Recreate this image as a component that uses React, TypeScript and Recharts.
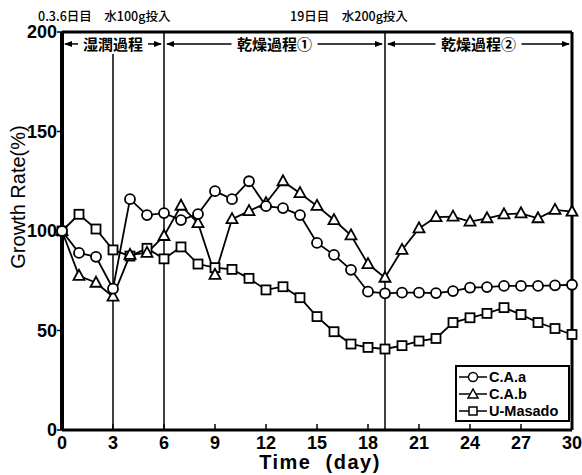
import React from "react";
import { ComposedChart, Line, XAxis, YAxis, ReferenceLine, Legend } from "recharts";

const days = [0, 1, 2, 3, 4, 5, 6, 7, 8, 9, 10, 11, 12, 13, 14, 15, 16, 17, 18, 19, 20, 21, 22, 23, 24, 25, 26, 27, 28, 29, 30];
const caA = [100, 89, 87, 71, 116, 108, 109, 105.5, 108.5, 120, 116, 125, 112.5, 111.5, 108, 94, 88, 80.5, 69.5, 68.7, 69, 69, 68.8, 69.8, 71.5, 71.8, 72.4, 72.4, 72.4, 72.7, 73];
const caB = [100, 77.5, 74, 67, 88, 89, 97.5, 112.7, 104, 78, 106, 110, 114, 125, 119, 112.6, 105.5, 97.8, 83.4, 76.5, 90.5, 101.3, 107, 107.2, 104.7, 106.4, 108.4, 108.9, 106.4, 110.6, 109.7];
const uMasado = [100, 108.4, 101, 90.5, 87.4, 91.3, 86, 92, 83.4, 81.6, 80.7, 76.2, 70.4, 72, 66.5, 57, 49.4, 43.2, 41.5, 40.7, 42.4, 44.7, 46, 54, 56.4, 58.6, 61.5, 58, 54, 51, 48];

const xTicks = [0, 3, 6, 9, 12, 15, 18, 21, 24, 27, 30];
const yTicks = [0, 50, 100, 150, 200];

const seriesNames = ["C.A.a", "C.A.b", "U-Masado"];
const phases = [
    { label: "湿潤過程", from: 0, to: 6 },
    { label: "乾燥過程①", from: 6, to: 19 },
    { label: "乾燥過程②", from: 19, to: 30 },
];
const notes = ["0.3.6日目\u3000水100g投入", "19日目\u3000水200g投入"];

const data = days.map((d, i) => ({ day: d, caA: caA[i], caB: caB[i], uMasado: uMasado[i] }));

const FONT = "'Liberation Sans', Arial, sans-serif";
const CJK = "'Noto Sans CJK JP', sans-serif";
const LW = 1.8;

const Triangle = (props: any) => {
    const { cx, cy, index } = props;
    if (cx == null || cy == null) return <g key={`t${index}`} />;
    return (
        <polygon
            key={`t${index}`}
            points={`${cx},${cy - 6} ${cx - 5.5},${cy + 4} ${cx + 5.5},${cy + 4}`}
            fill="#fff"
            stroke="#000"
            strokeWidth={LW}
        />
    );
};

const Square = (props: any) => {
    const { cx, cy, index } = props;
    if (cx == null || cy == null) return <g key={`s${index}`} />;
    return <rect key={`s${index}`} x={cx - 4.5} y={cy - 4.5} width={9} height={9} fill="#fff" stroke="#000" strokeWidth={LW} />;
};

const phaseShape = (label: string) => (p: any) => {
    const x1 = Number(p.x1);
    const x2 = Number(p.x2);
    const y = Number(p.y1);
    const cx = (x1 + x2) / 2;
    const half = (label.length * 16) / 2 + 3;
    return (
        <g>
            <line x1={x1 + 3} x2={cx - half} y1={y} y2={y} stroke="#000" strokeWidth={1.5} />
            <line x1={cx + half} x2={x2 - 3} y1={y} y2={y} stroke="#000" strokeWidth={1.5} />
            <polygon points={`${x1 + 2},${y} ${x1 + 10},${y - 3} ${x1 + 10},${y + 3}`} fill="#000" />
            <polygon points={`${x2 - 2},${y} ${x2 - 10},${y - 3} ${x2 - 10},${y + 3}`} fill="#000" />
            <text x={cx} y={y} textAnchor="middle" dominantBaseline="central" fontFamily={CJK} fontWeight="bold" fontSize={15} fill="#000">
                {label}
            </text>
        </g>
    );
};

const yLabel = () => (
    <text x={18} y={197} transform="rotate(-90, 18, 197)" textAnchor="middle" dominantBaseline="central" fontFamily={FONT} fontSize={20} fill="#000">
        Growth Rate(%)
    </text>
);

const xLabel = () => (
    <text x={320} y={462} textAnchor="middle" dominantBaseline="central" fontFamily={FONT} fontSize={20} fontWeight="bold" letterSpacing={1.5} fill="#000">
        {"Time\u00a0\u00a0(day)"}
    </text>
);

const renderLegend = () => {
    const markers = [
        <circle cx={15} cy={8} r={4.5} fill="#fff" stroke="#000" strokeWidth={1.5} />,
        <polygon points="15,3 10,12 20,12" fill="#fff" stroke="#000" strokeWidth={1.5} />,
        <rect x={11} y={4} width={8} height={8} fill="#fff" stroke="#000" strokeWidth={1.5} />,
    ];
    return (
        <div style={{ border: "2px solid #000", background: "#fff", padding: "1px 1px", width: 109 }}>
            {seriesNames.map((name, i) => (
                <div key={name} style={{ display: "flex", alignItems: "center", height: 17 }}>
                    <svg width={30} height={16}>
                        <line x1={1} x2={29} y1={8} y2={8} stroke="#000" strokeWidth={1.5} />
                        {markers[i]}
                    </svg>
                    <span style={{ fontFamily: FONT, fontWeight: "bold", fontSize: 14.5, marginLeft: 1 }}>{name}</span>
                </div>
            ))}
        </div>
    );
};

export default function App() {
    const tickStyle = { fill: "#000", fontSize: 18, fontWeight: "bold", fontFamily: FONT };
    return (
        <div style={{ position: "absolute", left: 0, top: 0, width: 582, height: 475, background: "#fff" }}>
            <div style={{ position: "absolute", left: 38, top: 6, fontFamily: CJK, fontSize: 12.5, fontWeight: 500, whiteSpace: "pre" }}>{notes[0]}</div>
            <div style={{ position: "absolute", left: 290, top: 6, fontFamily: CJK, fontSize: 12.5, fontWeight: 500, whiteSpace: "pre" }}>{notes[1]}</div>
            <ComposedChart width={582} height={475} data={data} margin={{ top: 31, right: 9, bottom: 0, left: 0 }}>
                <XAxis
                    dataKey="day"
                    type="number"
                    domain={[0, 30]}
                    ticks={xTicks}
                    interval={0}
                    height={45}
                    tickSize={-6}
                    tickMargin={12}
                    tick={tickStyle}
                    tickLine={{ stroke: "#000", strokeWidth: 1.5 }}
                    axisLine={{ stroke: "#000", strokeWidth: 3 }}
                    label={{ content: xLabel }}
                />
                <XAxis
                    xAxisId="top"
                    orientation="top"
                    type="number"
                    domain={[0, 30]}
                    allowDataOverflow
                    ticks={xTicks}
                    interval={0}
                    height={1}
                    tickSize={-6}
                    tick={false}
                    tickLine={{ stroke: "#000", strokeWidth: 1.5 }}
                    axisLine={{ stroke: "#000", strokeWidth: 3 }}
                />
                <YAxis
                    type="number"
                    domain={[0, 200]}
                    ticks={yTicks}
                    interval={0}
                    width={62}
                    tickSize={5}
                    tickMargin={0}
                    tick={tickStyle}
                    tickLine={{ stroke: "#000", strokeWidth: 1.5 }}
                    axisLine={{ stroke: "#000", strokeWidth: 4 }}
                    label={{ content: yLabel }}
                />
                <YAxis
                    yAxisId="right"
                    orientation="right"
                    type="number"
                    domain={[0, 200]}
                    allowDataOverflow
                    ticks={yTicks}
                    interval={0}
                    width={1}
                    tickSize={-6}
                    tick={false}
                    tickLine={{ stroke: "#000", strokeWidth: 1.5 }}
                    axisLine={{ stroke: "#000", strokeWidth: 3 }}
                />
                <ReferenceLine segment={[{ x: 3, y: 0 }, { x: 3, y: 189 }]} stroke="#000" strokeWidth={1.5} />
                <ReferenceLine x={6} stroke="#000" strokeWidth={1.5} />
                <ReferenceLine x={19} stroke="#000" strokeWidth={1.5} />
                {phases.map((ph) => (
                    <ReferenceLine
                        key={ph.label}
                        segment={[{ x: ph.from, y: 194 }, { x: ph.to, y: 194 }]}
                        shape={phaseShape(ph.label)}
                    />
                ))}
                <Line dataKey="uMasado" name={seriesNames[2]} stroke="#000" strokeWidth={LW} dot={<Square />} isAnimationActive={false} />
                <Line dataKey="caB" name={seriesNames[1]} stroke="#000" strokeWidth={LW} dot={<Triangle />} isAnimationActive={false} />
                <Line dataKey="caA" name={seriesNames[0]} stroke="#000" strokeWidth={LW} dot={{ r: 5, fill: "#fff", stroke: "#000", strokeWidth: LW }} isAnimationActive={false} />
                <Legend
                    layout="horizontal"
                    verticalAlign="middle"
                    align="center"
                    content={renderLegend}
                    wrapperStyle={{ left: 455, top: 365, width: 113 }}
                />
            </ComposedChart>
        </div>
    );
}
